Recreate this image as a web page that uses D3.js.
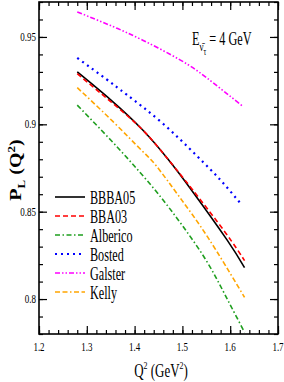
<!DOCTYPE html>
<html>
<head>
<meta charset="utf-8">
<script src="https://cdn.jsdelivr.net/npm/d3@7"></script>
<style>
body { margin: 0; background: #fff; }
text { font-family: "Liberation Serif", "Times New Roman", serif; fill: #000; }
</style>
</head>
<body>
<div id="chart"></div>
<script>
// values, [Q2, P_L]
var bbba05   = [[1.28, 0.930], [1.35, 0.914], [1.416, 0.897], [1.47, 0.880], [1.52, 0.862], [1.593, 0.834], [1.63, 0.818]];
var bba03    = [[1.28, 0.929], [1.35, 0.913], [1.416, 0.897], [1.47, 0.880], [1.52, 0.863], [1.59, 0.838], [1.63, 0.822]];
var alberico = [[1.28, 0.911], [1.35, 0.891], [1.40, 0.876], [1.45, 0.860], [1.50, 0.842], [1.55, 0.822], [1.59, 0.802], [1.63, 0.781]];
var bosted   = [[1.28, 0.938], [1.34, 0.926], [1.3835, 0.917], [1.4567, 0.901], [1.53, 0.882], [1.58, 0.868], [1.625, 0.8536]];
var galster  = [[1.28, 0.9643], [1.35, 0.9565], [1.418, 0.948], [1.495, 0.9369], [1.551, 0.9266], [1.625, 0.9106]];
var kelly    = [[1.28, 0.921], [1.355, 0.9015], [1.415, 0.885], [1.446, 0.876], [1.495, 0.858], [1.554, 0.835], [1.63, 0.801]];

var seriesNames = ["BBBA05", "BBA03", "Alberico", "Bosted", "Galster", "Kelly"];
var xTicks = [1.2, 1.3, 1.4, 1.5, 1.6, 1.7];
var yTicks = [0.8, 0.85, 0.9, 0.95];

var series = [
    {name: seriesNames[0], data: bbba05,   color: "#000000", dash: null,                  w: 1.6},
    {name: seriesNames[1], data: bba03,    color: "#ff0000", dash: "5,3",                 w: 1.6},
    {name: seriesNames[2], data: alberico, color: "#1e9e1e", dash: "5,2.5,1.5,2.5",       w: 1.6},
    {name: seriesNames[3], data: bosted,   color: "#0000ff", dash: "2,4",                 w: 2.2},
    {name: seriesNames[4], data: galster,  color: "#ff00ff", dash: "5,2,1.5,2,1.5,2",     w: 1.6},
    {name: seriesNames[5], data: kelly,    color: "#ffa500", dash: "5,2.5,5,2.5,1.5,2.5", w: 1.6}
];

var width = 284, height = 382;
var padL = 39, padR = 278, padT = 2, padB = 334;

var svg = d3.select("#chart").append("svg")
    .attr("width", width)
    .attr("height", height);

var x = d3.scaleLinear().domain([1.2, 1.7]).range([padL, padR]);
var y = d3.scaleLinear().domain([0.78, 0.97]).range([padB, padT]);

// squeezed text like the original
function label(str, tx, ty, size, anchor, sx) {
    return svg.append("text")
        .attr("transform", "translate(" + tx + "," + ty + ") scale(" + sx + ",1)")
        .attr("text-anchor", anchor)
        .style("font-size", size + "px")
        .text(str);
}

// ticks, inward on all four sides
var xMinor = d3.range(1.2, 1.7001, 0.02);
var yMinor = d3.range(0.78, 0.9701, 0.01);

svg.append("g").attr("transform", "translate(0," + padB + ")")
    .call(d3.axisBottom(x).tickValues(xMinor).tickSize(-4).tickFormat(""));
svg.append("g").attr("transform", "translate(0," + padT + ")")
    .call(d3.axisTop(x).tickValues(xMinor).tickSize(-4).tickFormat(""));
svg.append("g").attr("transform", "translate(" + padL + ",0)")
    .call(d3.axisLeft(y).tickValues(yMinor).tickSize(-4).tickFormat(""));
svg.append("g").attr("transform", "translate(" + padR + ",0)")
    .call(d3.axisRight(y).tickValues(yMinor).tickSize(-4).tickFormat(""));

svg.append("g").attr("transform", "translate(0," + padB + ")")
    .call(d3.axisBottom(x).tickValues(xTicks).tickSize(-8).tickFormat(""));
svg.append("g").attr("transform", "translate(0," + padT + ")")
    .call(d3.axisTop(x).tickValues(xTicks).tickSize(-8).tickFormat(""));
svg.append("g").attr("transform", "translate(" + padL + ",0)")
    .call(d3.axisLeft(y).tickValues(yTicks).tickSize(-8).tickFormat(""));
svg.append("g").attr("transform", "translate(" + padR + ",0)")
    .call(d3.axisRight(y).tickValues(yTicks).tickSize(-8).tickFormat(""));

svg.selectAll(".domain").remove();
svg.selectAll(".tick line").attr("stroke", "#000").attr("stroke-width", 1.2);

svg.append("rect")
    .attr("x", padL).attr("y", padT)
    .attr("width", padR - padL).attr("height", padB - padT)
    .attr("fill", "none").attr("stroke", "#000").attr("stroke-width", 1.6);

xTicks.forEach(function(t) {
    label(d3.format(".1f")(t), x(t), padB + 17, 12.5, "middle", 0.72);
});
yTicks.forEach(function(t) {
    label(d3.format(".2~f")(t), padL - 3, y(t) + 4, 12.5, "end", 0.72);
});

// curves
var line = d3.line()
    .x(function(d) { return x(d[0]); })
    .y(function(d) { return y(d[1]); })
    .curve(d3.curveNatural);

svg.append("g").selectAll("path")
    .data(series)
    .enter().append("path")
    .attr("d", function(d) { return line(d.data); })
    .attr("fill", "none")
    .attr("stroke", function(d) { return d.color; })
    .attr("stroke-width", function(d) { return d.w; })
    .attr("stroke-dasharray", function(d) { return d.dash; });

// legend
var leg = svg.append("g").selectAll("g")
    .data(series)
    .enter().append("g")
    .attr("transform", function(d, i) { return "translate(0," + (197 + i * 19) + ")"; });

leg.append("line")
    .attr("x1", 55).attr("x2", 85)
    .attr("stroke", function(d) { return d.color; })
    .attr("stroke-width", function(d) { return d.w; })
    .attr("stroke-dasharray", function(d) { return d.dash; });

leg.append("text")
    .attr("transform", "translate(90,6.5) scale(0.64,1)")
    .style("font-size", "19px")
    .text(function(d) { return d.name; });

// energy label
var e = svg.append("text")
    .attr("transform", "translate(192,45) scale(0.68,1)")
    .style("font-size", "18px");
e.append("tspan").text("E");
e.append("tspan").attr("dy", 6).style("font-size", "13px").text("\u03BD\u0304");
e.append("tspan").attr("dy", 4).style("font-size", "10px").text("\u03C4");
e.append("tspan").attr("dy", -10).text(" = 4 GeV");

// axis titles
var xt = svg.append("text")
    .attr("transform", "translate(161,377) scale(0.72,1)")
    .attr("text-anchor", "middle")
    .style("font-size", "18px");
xt.append("tspan").text("Q");
xt.append("tspan").attr("dy", -8).style("font-size", "11px").text("2");
xt.append("tspan").attr("dy", 8).text(" (GeV");
xt.append("tspan").attr("dy", -8).style("font-size", "11px").text("2");
xt.append("tspan").attr("dy", 8).text(")");

var yt = svg.append("text")
    .attr("transform", "translate(21,170) scale(0.8,1) rotate(-90)")
    .attr("text-anchor", "middle")
    .style("font-size", "20px")
    .style("font-weight", "bold");
yt.append("tspan").text("P");
yt.append("tspan").attr("dy", 5).style("font-size", "13px").text("L");
yt.append("tspan").attr("dy", -5).text(" (Q");
yt.append("tspan").attr("dy", -8).style("font-size", "13px").text("2");
yt.append("tspan").attr("dy", 8).text(")");
</script>
</body>
</html>
